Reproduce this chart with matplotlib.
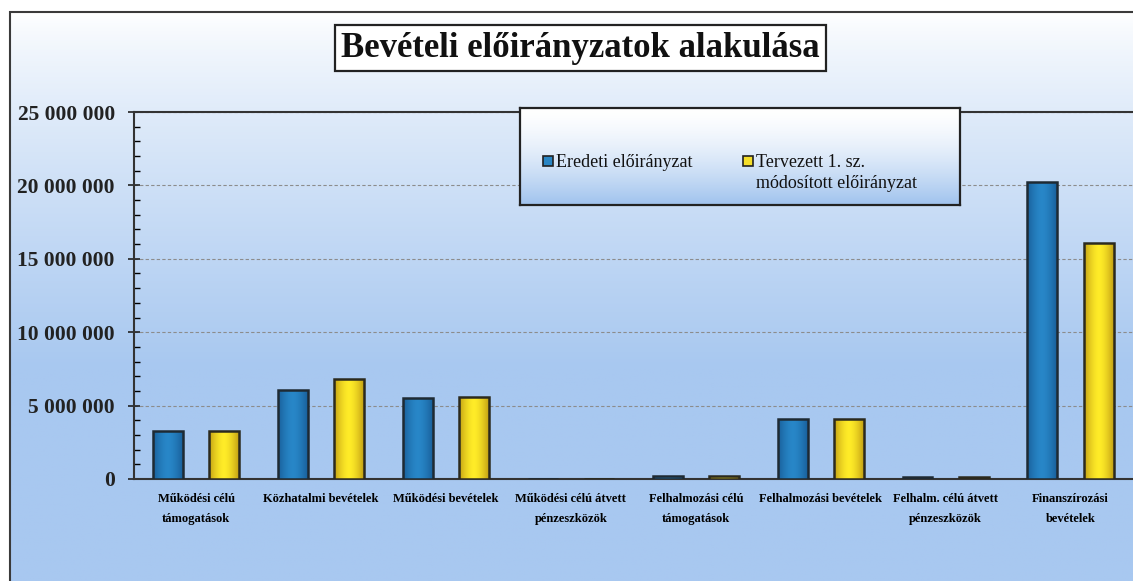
import matplotlib.pyplot as plt
import numpy as np
from matplotlib.patches import Rectangle
from matplotlib.ticker import MultipleLocator, FuncFormatter

categories = [
    "Működési célú\ntámogatások",
    "Közhatalmi bevételek",
    "Működési bevételek",
    "Működési célú átvett\npénzeszközök",
    "Felhalmozási célú\ntámogatások",
    "Felhalmozási bevételek",
    "Felhalm. célú átvett\npénzeszközök",
    "Finanszírozási\nbevételek",
]
eredeti = [3300000, 6050000, 5500000, 0, 220000, 4100000, 150000, 20200000]
tervezett = [3250000, 6800000, 5600000, 0, 220000, 4100000, 150000, 16100000]
series_names = ["Eredeti előirányzat", "Tervezett 1. sz.\nmódosított előirányzat"]
series_colors = ["#2a86c4", "#f4de2a"]

SERIF = ["Liberation Serif", "DejaVu Serif"]
plt.rcParams["font.family"] = SERIF

fig = plt.figure(figsize=(11.33, 5.81), dpi=100)
fig.patch.set_facecolor("white")

# background gradient inside the outer frame
frame_x0, frame_y0 = 10 / 1133, 1 - 12 / 581
bg = fig.add_axes([frame_x0, 0, 1 - frame_x0, frame_y0], zorder=-5)
t = np.linspace(0, 1, 256)[:, None]
ramp = np.clip(t * 1.6, 0, 1) ** 0.8
top_c = np.array([1.0, 1.0, 1.0])
bot_c = np.array([168, 200, 240]) / 255
grad = top_c * (1 - ramp[..., None]) + bot_c * ramp[..., None]
grad = np.repeat(grad, 4, axis=1)
bg.imshow(grad, aspect="auto", extent=[0, 1, 0, 1], origin="upper")
bg.set_axis_off()

fig.patches.append(Rectangle((frame_x0, -0.1), 1.2, frame_y0 + 0.1, transform=fig.transFigure,
                             fill=False, ec="#3a3a3a", lw=1.5, zorder=10))

ax = fig.add_axes([133.6 / 1133, 1 - 479 / 581, 1 - 133.6 / 1133, (479 - 112) / 581])
ax.set_facecolor("none")

x = np.arange(len(categories))
w = 0.24
off = 0.225
b1 = ax.bar(x - off, eredeti, w, facecolor="none", edgecolor="#1e2a33", lw=1.8, zorder=4)
b2 = ax.bar(x + off, tervezett, w, facecolor="none", edgecolor="#2b2a1e", lw=1.8, zorder=4)


def shade(bars, c_mid, c_edge):
    s = np.linspace(-1, 1, 64)
    k = np.abs(s) ** 1.6
    cols = np.array(c_mid) * (1 - k[:, None]) + np.array(c_edge) * k[:, None]
    img = (cols / 255)[None, :, :]
    for bar in bars:
        h = bar.get_height()
        if h <= 0:
            continue
        bx = bar.get_x()
        im = ax.imshow(img, aspect="auto", extent=[bx, bx + bar.get_width(), 0, h], zorder=3)
        im.set_clip_path(bar)


shade(b1, (40, 135, 200), (25, 95, 155))
shade(b2, (255, 236, 40), (195, 160, 20))

ax.set_xlim(-0.5, len(categories) - 0.5)
ax.set_ylim(0, 25000000)
ax.yaxis.set_major_locator(MultipleLocator(5000000))
ax.yaxis.set_minor_locator(MultipleLocator(1000000))
ax.yaxis.set_major_formatter(FuncFormatter(lambda v, p: f"{int(v):,}".replace(",", " ")))
ax.grid(axis="y", which="major", ls=(0, (3, 2)), color="#8c8c8c", lw=0.8, zorder=1)
ax.set_axisbelow(True)

ax.set_xticks(x)
ax.set_xticklabels(categories, fontsize=9, fontweight="bold", linespacing=1.95)
ax.tick_params(axis="x", length=0, pad=10)
ax.tick_params(axis="y", which="major", direction="inout", length=9, width=1.2, pad=9,
               labelsize=15.5, colors="#222")
ax.tick_params(axis="y", which="minor", direction="in", length=4, width=1)
for lab in ax.get_yticklabels():
    lab.set_fontweight("bold")

for side in ["left", "bottom", "top"]:
    ax.spines[side].set_color("#333")
    ax.spines[side].set_linewidth(1.5)
ax.spines["right"].set_visible(False)

# title box
fig.text(0.512, 0.917, "Bevételi előirányzatok alakulása", ha="center", va="center",
         fontsize=25, fontweight="bold", color="#111",
         bbox=dict(boxstyle="square,pad=0.18", fc="white", ec="#222", lw=1.6))

# legend box with gradient fill
lax = fig.add_axes([520 / 1133, 1 - 205 / 581, 440 / 1133, 97 / 581], zorder=6)
lt = np.linspace(0, 1, 128)[:, None]
lcol = np.array([1, 1, 1]) * (1 - lt[..., None] ** 1.5) + np.array([160, 195, 238]) / 255 * lt[..., None] ** 1.5
lax.imshow(np.repeat(lcol, 4, axis=1), aspect="auto", extent=[0, 1, 0, 1], origin="upper")
lax.set_xlim(0, 1)
lax.set_ylim(0, 1)
lax.set_xticks([])
lax.set_yticks([])
for sp in lax.spines.values():
    sp.set_color("#222")
    sp.set_linewidth(1.6)

sq_w, sq_h = 10 / 440, 10 / 97
for name, col, x0 in zip(series_names, series_colors, [0.053, 0.507]):
    lax.add_patch(Rectangle((x0, 0.454 - sq_h / 2), sq_w, sq_h, fc=col, ec="#222", lw=1.2, zorder=3))
    lax.text(x0 + sq_w + 0.006, 0.454 + 0.075, name, ha="left", va="top", fontsize=13,
             linespacing=1.3, color="#111", zorder=3)

fig.savefig("out.png", dpi=100)
